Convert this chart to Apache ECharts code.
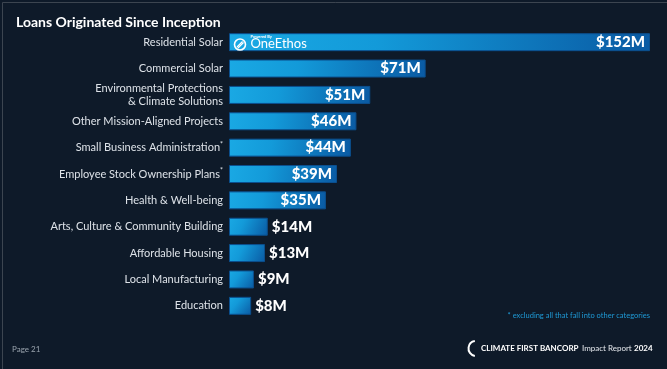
<!DOCTYPE html>
<html><head><meta charset="utf-8">
<script src="https://cdn.jsdelivr.net/npm/echarts@6/dist/echarts.min.js"></script>
<style>html,body{margin:0;padding:0;background:#0e1a29;}#c{width:667px;height:369px;}</style>
</head><body><div id="c"></div>
<script>
const categories = [
  'Residential Solar',
  'Commercial Solar',
  'Environmental Protections\n& Climate Solutions',
  'Other Mission-Aligned Projects',
  'Small Business Administration*',
  'Employee Stock Ownership Plans*',
  'Health & Well-being',
  'Arts, Culture & Community Building',
  'Affordable Housing',
  'Local Manufacturing',
  'Education'
];
const values = [152, 71, 51, 46, 44, 39, 35, 14, 13, 9, 8];
const valueLabels = ['$152M','$71M','$51M','$46M','$44M','$39M','$35M','$14M','$13M','$9M','$8M'];
const insideThreshold = 30;

const chart = echarts.init(document.getElementById('c'), null, {renderer:'canvas'});
const grad = new echarts.graphic.LinearGradient(0, 0, 1, 1, [
  {offset:0, color:'#1aa9e4'},
  {offset:0.35, color:'#139ad9'},
  {offset:1, color:'#0a5aa3'}
]);
const data = values.map((v, i) => ({
  value: v,
  label: {
    position: v >= insideThreshold ? 'insideRight' : 'right',
    distance: v >= insideThreshold ? 5 : 4,
    formatter: valueLabels[i]
  }
}));
chart.setOption({
  backgroundColor: '#0e1a29',
  animation: false,
  title: {
    text: 'Loans Originated Since Inception',
    left: 11, top: 10,
    textStyle: {color:'#ffffff', fontSize:14, fontWeight:'bold', fontFamily:'Lato'}
  },
  grid: {left: 229, right: 17, top: 29, bottom: 50, containLabel: false},
  xAxis: {type:'value', min:0, max:152, show:false},
  yAxis: {
    type:'category', data: categories, inverse:true,
    axisLine:{show:false}, axisTick:{show:false},
    axisLabel:{
      color:'#dde2e8', fontSize:11, fontFamily:'Lato', margin:6, lineHeight:13,
      formatter: v => v.endsWith('*') ? v.slice(0,-1) + '{s|*}' : v,
      rich:{s:{fontSize:7, verticalAlign:'top', color:'#dde2e8', padding:[0,0,5,0]}}
    }
  },
  series: [{
    type:'bar', data: data, barWidth: 18,
    itemStyle:{color: grad, borderColor:'#0b4f8e', borderWidth:1},
    label:{show:true, color:'#ffffff', fontSize:15, fontWeight:900, fontFamily:'Lato'}
  }],
  graphic: [
    {type:'rect', left:0, top:0, z:100, shape:{width:666, height:368}, style:{fill:'none', stroke:'#3c4550', lineWidth:1}, silent:true},
    {type:'group', left:232, top:35, z:100, children:[
      {type:'circle', z:100, shape:{cx:6.5, cy:6.5, r:5.5}, style:{fill:'none', stroke:'#ffffff', lineWidth:1.6}},
      {type:'line', z:100, shape:{x1:3.5, y1:9, x2:9, y2:3.5}, style:{stroke:'#ffffff', lineWidth:1.2}},
      {type:'line', z:100, shape:{x1:4.5, y1:10, x2:10, y2:4.5}, style:{stroke:'#ffffff', lineWidth:1.2}},
      {type:'text', z:100, x:17, y:-3, style:{text:'Powered By', fill:'#ffffff', fontSize:4, fontFamily:'Lato', fontWeight:'bold'}},
      {type:'text', z:100, x:17, y:-1, style:{text:'OneEthos', fill:'#ffffff', fontSize:13, fontFamily:'Lato', fontWeight:'normal'}}
    ]},
    {type:'text', right:17, top:312, style:{text:'* excluding all that fall into other categories', fill:'#1f9ad6', fontSize:7.5, fontFamily:'Lato'}},
    {type:'text', left:12, top:345, style:{text:'Page 21', fill:'#9aa4ae', fontSize:8, fontFamily:'Lato'}},
    {type:'arc', shape:{cx:476, cy:348.5, r:7.5, startAngle:Math.PI*0.55, endAngle:Math.PI*1.45}, style:{stroke:'#ffffff', lineWidth:2, fill:'none'}},
    {type:'text', left:481, top:344, style:{text:'CLIMATE FIRST BANCORP', fill:'#ffffff', fontSize:8, fontWeight:'bold', fontFamily:'Lato'}},
    {type:'text', left:582, top:344, style:{text:'Impact Report', fill:'#e6e9ee', fontSize:8, fontFamily:'Lato'}},
    {type:'text', left:634, top:344, style:{text:'2024', fill:'#ffffff', fontSize:8, fontWeight:'bold', fontFamily:'Lato'}}
  ]
});
</script></body></html>
